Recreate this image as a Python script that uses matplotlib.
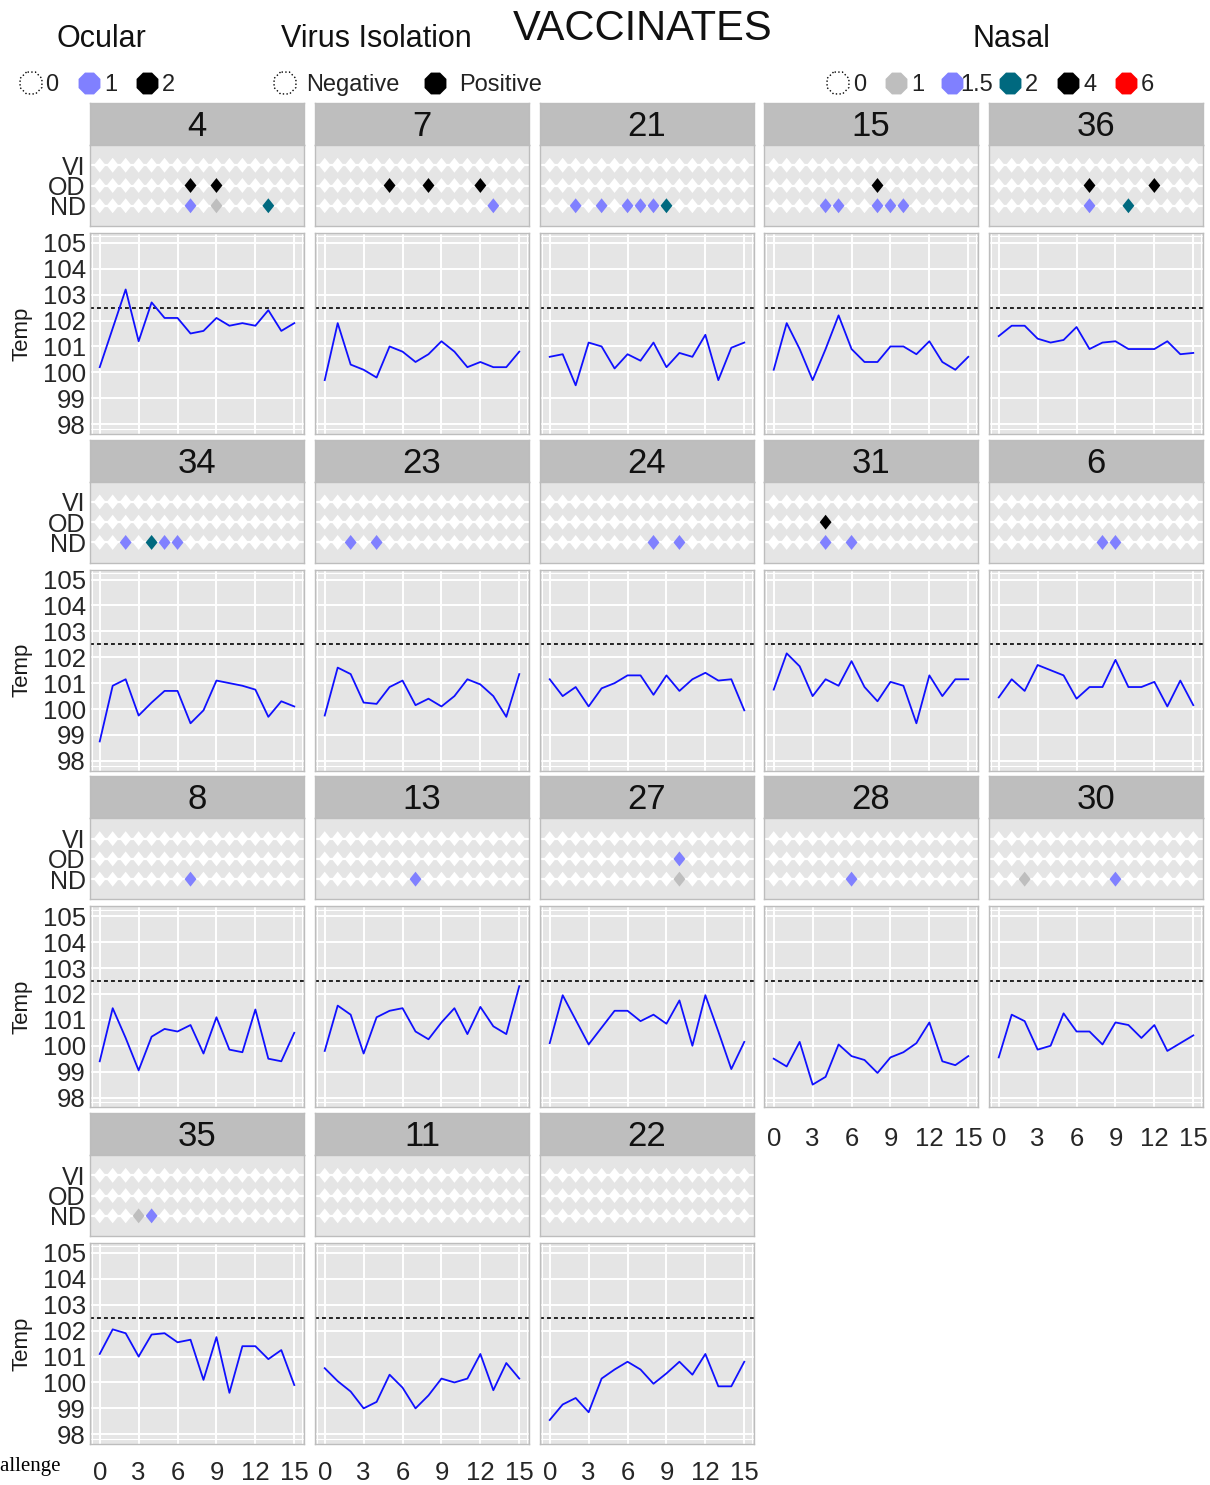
import matplotlib
matplotlib.use('Agg')
import matplotlib.pyplot as plt

plt.rcParams['font.family'] = ['Liberation Sans', 'DejaVu Sans']

# ---------------- data ----------------
days = list(range(16))
animals = [4, 7, 21, 15, 36, 34, 23, 24, 31, 6, 8, 13, 27, 28, 30, 35, 11, 22]

t4 = [100.2, 101.7, 103.2, 101.2, 102.7, 102.1, 102.1, 101.5, 101.6, 102.1, 101.8, 101.9, 101.8, 102.4, 101.6, 101.9]
t7 = [99.7, 101.9, 100.3, 100.1, 99.8, 101.0, 100.8, 100.4, 100.7, 101.2, 100.8, 100.2, 100.4, 100.2, 100.2, 100.8]
t21 = [100.6, 100.7, 99.5, 101.15, 101.0, 100.15, 100.7, 100.45, 101.15, 100.2, 100.75, 100.6, 101.45, 99.7, 100.95, 101.15]
t15 = [100.1, 101.9, 100.9, 99.7, 100.9, 102.2, 100.9, 100.4, 100.4, 101.0, 101.0, 100.7, 101.2, 100.4, 100.1, 100.6]
t36 = [101.4, 101.8, 101.8, 101.3, 101.15, 101.25, 101.75, 100.9, 101.15, 101.2, 100.9, 100.9, 100.9, 101.2, 100.7, 100.75]
t34 = [98.75, 100.9, 101.15, 99.75, 100.25, 100.7, 100.7, 99.45, 99.95, 101.1, 101.0, 100.9, 100.75, 99.7, 100.3, 100.1]
t23 = [99.75, 101.6, 101.35, 100.25, 100.2, 100.85, 101.1, 100.15, 100.4, 100.1, 100.5, 101.15, 100.95, 100.5, 99.7, 101.35]
t24 = [101.15, 100.5, 100.85, 100.1, 100.8, 101.0, 101.3, 101.3, 100.55, 101.3, 100.7, 101.15, 101.4, 101.1, 101.15, 99.95]
t31 = [100.75, 102.15, 101.65, 100.5, 101.15, 100.9, 101.85, 100.85, 100.3, 101.05, 100.9, 99.45, 101.3, 100.5, 101.15, 101.15]
t6 = [100.45, 101.15, 100.7, 101.7, 101.5, 101.3, 100.4, 100.85, 100.85, 101.9, 100.85, 100.85, 101.05, 100.1, 101.1, 100.15]
t8 = [99.4, 101.45, 100.3, 99.05, 100.35, 100.65, 100.55, 100.8, 99.7, 101.1, 99.85, 99.75, 101.4, 99.5, 99.4, 100.5]
t13 = [99.8, 101.55, 101.2, 99.7, 101.1, 101.35, 101.45, 100.55, 100.25, 100.9, 101.45, 100.45, 101.5, 100.75, 100.45, 102.3]
t27 = [100.1, 101.95, 101.0, 100.05, 100.7, 101.35, 101.35, 100.95, 101.2, 100.85, 101.75, 100.0, 101.95, 100.55, 99.1, 100.15]
t28 = [99.5, 99.2, 100.15, 98.5, 98.8, 100.05, 99.6, 99.45, 98.95, 99.55, 99.75, 100.1, 100.9, 99.4, 99.25, 99.6]
t30 = [99.55, 101.2, 100.95, 99.85, 100.0, 101.25, 100.55, 100.55, 100.05, 100.9, 100.8, 100.3, 100.8, 99.8, 100.1, 100.4]
t35 = [101.1, 102.05, 101.9, 101.0, 101.85, 101.9, 101.55, 101.65, 100.1, 101.75, 99.6, 101.4, 101.4, 100.9, 101.25, 99.9]
t11 = [100.55, 100.05, 99.65, 99.0, 99.25, 100.3, 99.8, 99.0, 99.5, 100.15, 100.0, 100.15, 101.1, 99.7, 100.75, 100.15]
t22 = [98.55, 99.15, 99.4, 98.85, 100.15, 100.5, 100.8, 100.5, 99.95, 100.35, 100.8, 100.3, 101.1, 99.85, 99.85, 100.8]

temps = {4: t4, 7: t7, 21: t21, 15: t15, 36: t36, 34: t34, 23: t23, 24: t24, 31: t31,
         6: t6, 8: t8, 13: t13, 27: t27, 28: t28, 30: t30, 35: t35, 11: t11, 22: t22}

# non-zero scores: {animal: {day: score}}
ocular = {4: {7: 2, 9: 2}, 7: {5: 2, 8: 2, 12: 2}, 15: {8: 2}, 36: {7: 2, 12: 2},
          31: {4: 2}, 27: {10: 1}}
nasal = {4: {7: 1.5, 9: 1, 13: 2}, 7: {13: 1.5},
         21: {2: 1.5, 4: 1.5, 6: 1.5, 7: 1.5, 8: 1.5, 9: 2},
         15: {4: 1.5, 5: 1.5, 8: 1.5, 9: 1.5, 10: 1.5}, 36: {7: 1.5, 10: 2},
         34: {2: 1.5, 4: 2, 5: 1.5, 6: 1.5}, 23: {2: 1.5, 4: 1.5}, 24: {8: 1.5, 10: 1.5},
         31: {4: 1.5, 6: 1.5}, 6: {8: 1.5, 9: 1.5}, 8: {7: 1.5}, 13: {7: 1.5},
         27: {10: 1}, 28: {6: 1.5}, 30: {2: 1, 9: 1.5}, 35: {3: 1, 4: 1.5}}
virus = {}  # all negative

ocular_levels = [0, 1, 2]
ocular_colors = ['white', '#8080FF', 'black']
nasal_levels = [0, 1, 1.5, 2, 4, 6]
nasal_colors = ['white', '#BEBEBE', '#8080FF', '#00697F', 'black', '#FF0000']
vi_levels = ['Negative', 'Positive']
vi_colors = ['white', 'black']
row_labels = ['ND', 'OD', 'VI']
temp_ticks = [98, 99, 100, 101, 102, 103, 104, 105]
day_ticks = [0, 3, 6, 9, 12, 15]
fever = 102.5

# ---------------- layout ----------------
W, H = 1210, 1485
fig = plt.figure(figsize=(W / 100, H / 100), dpi=100)


def rect(x, y, w, h):
    return [x / W, 1 - (y + h) / H, w / W, h / H]


col_left = [90, 315, 540, 764, 989]
pw = 214
row_top = [103, 439.7, 776.4, 1113.1]
diamond = [(0, 1), (0.8, 0), (0, -1), (-0.8, 0), (0, 1)]
xl = (-0.75, 15.75)
tick_col = '#262626'
border = '#BDBDBD'


def style(ax):
    for s in ax.spines.values():
        s.set_color(border)
        s.set_linewidth(1)


for i, a in enumerate(animals):
    r, c = divmod(i, 5)
    x0 = col_left[c]
    top = row_top[r]
    bottom_of_col = (r == 3) or (c >= 3 and r == 2)

    # strip
    sax = fig.add_axes(rect(x0, top, pw, 42))
    sax.set_facecolor('#BEBEBE')
    style(sax)
    sax.set_xticks([]); sax.set_yticks([])
    sax.text(0.5, 0.44, str(a), ha='center', va='center', fontsize=25,
             color='#111111', transform=sax.transAxes)

    # dot panel
    dax = fig.add_axes(rect(x0, top + 42, pw, 81))
    dax.set_facecolor('#E5E5E5')
    style(dax)
    dax.set_xlim(*xl)
    dax.set_ylim(0, 4)
    dax.set_xticks([])
    dax.set_yticks([1, 2, 3])
    dax.grid(axis='y', color='white', lw=1.6)
    dax.set_axisbelow(True)
    dax.tick_params(length=0, pad=3, labelsize=18, labelcolor=tick_col)
    if c == 0:
        dax.set_yticklabels(row_labels)
    else:
        dax.set_yticklabels([])
    oc = ocular.get(a, {})
    na = nasal.get(a, {})
    vi = virus.get(a, {})
    nd_cols = [nasal_colors[nasal_levels.index(na.get(d, 0))] for d in days]
    od_cols = [ocular_colors[ocular_levels.index(oc.get(d, 0))] for d in days]
    vi_cols = [vi_colors[vi_levels.index(vi.get(d, 'Negative'))] for d in days]
    for yv, cols in zip([1, 2, 3], [nd_cols, od_cols, vi_cols]):
        dax.scatter(days, [yv] * len(days), c=cols, marker=diamond, s=115,
                    linewidths=0, zorder=3)

    # temperature panel
    ax = fig.add_axes(rect(x0, top + 130, pw, 201))
    ax.set_facecolor('#E5E5E5')
    style(ax)
    ax.set_xlim(*xl)
    ax.set_ylim(97.62, 105.38)
    ax.set_xticks(day_ticks)
    ax.set_yticks(temp_ticks)
    ax.set_xticks([-0.62, 15.58], minor=True)
    ax.set_yticks([97.81, 105.26], minor=True)
    ax.grid(which='major', color='white', lw=1.4)
    ax.grid(which='minor', color='white', lw=0.8)
    ax.set_axisbelow(True)
    ax.tick_params(which='both', length=0, labelsize=18.5, labelcolor=tick_col)
    ax.tick_params(axis='y', pad=3)
    ax.tick_params(axis='x', pad=12 if r == 3 else 14)
    ax.tick_params(labelleft=(c == 0), labelbottom=bottom_of_col)
    ax.axhline(fever, color='#222222', ls=(0, (2.0, 1.6)), lw=1.4, zorder=2)
    ax.plot(days, temps[a], color='#1010FF', lw=1.3, zorder=3)
    if c == 0:
        fig.text(22 / W, 1 - (top + 130 + 100.5) / H, 'Temp', rotation=90,
                 ha='center', va='center', fontsize=16, color='#1A1A1A')

# clipped x label at bottom-left
fig.text(61 / W, 1 - 1467 / H, 'Days Post Challenge', ha='right', va='center',
         fontsize=15, family=['Liberation Serif', 'DejaVu Serif'])

# ---------------- title & legends ----------------
lax = fig.add_axes([0, 0, 1, 1], zorder=10)
lax.set_xlim(0, W)
lax.set_ylim(H, 0)
lax.axis('off')
lax.patch.set_alpha(0)

lax.text(643, 29, 'VACCINATES', ha='center', va='center', fontsize=30, color='#111111')
lax.text(101, 39, 'Ocular', ha='center', va='center', fontsize=22, color='#111111')
lax.text(376, 39, 'Virus Isolation', ha='center', va='center', fontsize=22, color='#111111')
lax.text(1011, 39, 'Nasal', ha='center', va='center', fontsize=22, color='#111111')

ly = 83
msz = 290


def leg_item(x, color, label, lx):
    if color == 'white':
        lax.scatter([x], [ly], marker='8', s=msz, facecolors='white',
                    edgecolors='black', linewidths=1.0, linestyles=':')
    else:
        lax.scatter([x], [ly], marker='8', s=msz, color=color, linewidths=0)
    lax.text(lx, ly + 2, label, ha='left', va='center', fontsize=17, color='#222222')


for x, col, lab, lx in zip([31, 89, 147], ocular_colors, ocular_levels, [45, 104, 162]):
    leg_item(x, col, str(lab), lx)
for x, col, lab, lx in zip([285, 435], vi_colors, vi_levels, [306, 459]):
    leg_item(x, col, lab, lx)
for x, col, lab, lx in zip([838, 896, 952, 1010, 1068, 1126], nasal_colors, nasal_levels,
                           [853, 911, 960, 1025, 1083, 1141]):
    leg_item(x, col, str(lab), lx)

fig.savefig('out.png', dpi=100)
